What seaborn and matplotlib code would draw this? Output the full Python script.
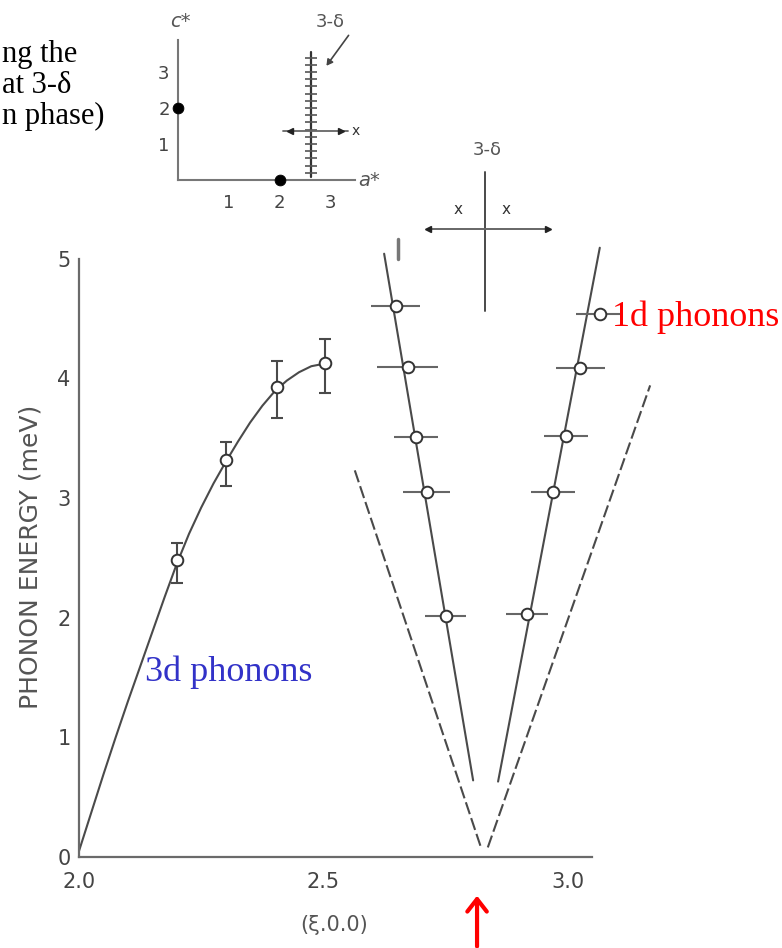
import matplotlib
matplotlib.use("Agg")
import matplotlib.pyplot as plt
import seaborn as sns
import pandas as pd

# ---------------- data ----------------
# 3d phonons (measured points with vertical error bars)
q3d = [2.20, 2.30, 2.405, 2.503]
e3d = [2.48, 3.32, 3.93, 4.13]
e3d_lo = [2.29, 3.10, 3.67, 3.88]
e3d_hi = [2.62, 3.47, 4.14, 4.33]

# 3d dispersion curve
curve_q = [2.000, 2.025, 2.050, 2.075, 2.100, 2.125, 2.150, 2.175, 2.200,
           2.225, 2.250, 2.275, 2.300, 2.325, 2.350, 2.375, 2.400, 2.425,
           2.450, 2.475, 2.500, 2.510]
curve_e = [0.05, 0.37, 0.69, 1.00, 1.30, 1.59, 1.88, 2.17, 2.45,
           2.70, 2.92, 3.12, 3.30, 3.47, 3.63, 3.77, 3.89, 3.98,
           4.05, 4.10, 4.12, 4.13]

# 1d phonons, left branch
q1d_left = [2.648, 2.672, 2.689, 2.711, 2.750]
e1d_left = [4.60, 4.09, 3.51, 3.05, 2.01]
xerr_left = [0.050, 0.062, 0.045, 0.048, 0.042]
# 1d phonons, right branch
q1d_right = [3.065, 3.025, 2.996, 2.969, 2.917]
e1d_right = [4.54, 4.085, 3.52, 3.05, 2.03]
xerr_right = [0.048, 0.050, 0.045, 0.045, 0.043]

# straight dispersion lines of the 1d modes
solid_left_q, solid_left_e = [2.624, 2.806], [5.04, 0.64]
solid_right_q, solid_right_e = [2.857, 3.065], [0.63, 5.09]
dash_left_q, dash_left_e = [2.564, 2.822], [3.23, 0.08]
dash_right_q, dash_right_e = [2.836, 3.168], [0.08, 3.94]

# axis ticks
xticks_major = [2.0, 2.5, 3.0]
xtick_labels = ["2.0", "2.5", "3.0"]
xticks_minor = [2.1, 2.2, 2.3, 2.4, 2.6, 2.7, 2.8, 2.9]
yticks = [0, 1, 2, 3, 4, 5]

# inset (reciprocal lattice sketch)
inset_ticks = [1, 2, 3]
inset_dots_a = [0, 2]
inset_dots_c = [2, 0]
hatch_c = [0.2, 0.4, 0.6, 0.8, 1.0, 1.2, 1.4, 1.6, 1.8, 2.0, 2.2, 2.4,
           2.6, 2.8, 3.0, 3.2, 3.4]
rod_a = 2.62

# ---------------- style ----------------
sns.set_style("white")
plt.rcParams['font.family'] = ['DejaVu Sans']
GRAY = '#555555'
LINE = '#4a4a4a'

fig = plt.figure(figsize=(7.82, 9.48), dpi=100)
W, H = 782, 948
x0, xr = 2.0, 3.30
y0, yr = 0.0, 6.2
pxu_x, pxu_y = 489.0, 119.7
ax = fig.add_axes([79 / W, (H - 857) / H, (xr - x0) * pxu_x / W, (yr - y0) * pxu_y / H])
ax.set_xlim(x0, xr)
ax.set_ylim(y0, yr)
ax.patch.set_alpha(0)
for s in ['top', 'right']:
    ax.spines[s].set_visible(False)
for s in ['left', 'bottom']:
    ax.spines[s].set_color('#6a6a6a')
    ax.spines[s].set_linewidth(1.6)
ax.spines['bottom'].set_bounds(2.0, 3.049)
ax.spines['left'].set_bounds(0, 5)

ax.set_xticks(xticks_major)
ax.set_xticklabels(xtick_labels)
ax.set_xticks(xticks_minor, minor=True)
ax.set_yticks(yticks)
ax.tick_params(axis='x', which='major', direction='in', length=11, width=1.3,
               colors='#6a6a6a', labelcolor='#444444', labelsize=15, pad=11)
ax.tick_params(axis='x', which='minor', direction='in', length=8, width=1.1,
               colors='#6a6a6a')
ax.tick_params(axis='y', which='major', direction='in', length=12, width=1.3,
               colors='#6a6a6a', labelcolor='#444444', labelsize=15, pad=6)

ax.set_ylabel("PHONON ENERGY (meV)", fontsize=18, color=GRAY)
ax.yaxis.set_label_coords(-0.058, 0.405)
ax.set_xlabel("(ξ.0.0)", fontsize=15, color=GRAY, va='top')
ax.xaxis.set_label_coords((2.521 - x0) / (xr - x0), -0.078)

# 3d curve
sns.lineplot(x=curve_q, y=curve_e, ax=ax, color=LINE, lw=1.5, sort=False,
             estimator=None)
# 1d lines
for q, e, ls in [(solid_left_q, solid_left_e, '-'), (solid_right_q, solid_right_e, '-'),
                 (dash_left_q, dash_left_e, (0, (6, 2))), (dash_right_q, dash_right_e, (0, (6, 2)))]:
    sns.lineplot(x=q, y=e, ax=ax, color=LINE, lw=1.5, linestyle=ls, sort=False,
                 estimator=None)

# error bars
err_lo = [e - l for e, l in zip(e3d, e3d_lo)]
err_hi = [h - e for e, h in zip(e3d, e3d_hi)]
ax.errorbar(q3d, e3d, yerr=[err_lo, err_hi], fmt='none', ecolor=LINE,
            elinewidth=1.5, capsize=4.5, capthick=1.5, zorder=3)
ax.errorbar(q1d_left, e1d_left, xerr=xerr_left, fmt='none', ecolor='#666666',
            elinewidth=1.5, capsize=0, zorder=3)
ax.errorbar(q1d_right, e1d_right, xerr=xerr_right, fmt='none', ecolor='#666666',
            elinewidth=1.5, capsize=0, zorder=3, clip_on=False)

pts = pd.DataFrame({'q': q3d + q1d_left + q1d_right,
                    'e': e3d + e1d_left + e1d_right})
sns.scatterplot(data=pts, x='q', y='e', ax=ax, s=70, marker='o',
                facecolor='white', edgecolor='#333333', linewidth=1.4,
                zorder=4, clip_on=False)

# labels for the two regimes
ax.text(2.135, 1.545, "3d phonons", color='#3232c8', fontsize=26,
        family='Liberation Serif', va='center', ha='left')
ax.text(3.089, 4.51, "1d phonons", color='#ff0000', fontsize=26,
        family='Liberation Serif', va='center', ha='left')

# small mark above the left 1d line
ax.plot([2.653, 2.653], [5.0, 5.16], color='#777777', lw=2.5, clip_on=False)

# 3-delta cross sketch
ax.plot([2.831, 2.831], [4.56, 5.72], color=LINE, lw=1.4, clip_on=False)
ax.plot([2.714, 2.96], [5.25, 5.25], color='#666666', lw=1.4, clip_on=False)
ax.plot([2.714], [5.25], marker='<', ms=5, color='#222222', clip_on=False)
ax.plot([2.96], [5.25], marker='>', ms=5, color='#222222', clip_on=False)
ax.text(2.834, 5.91, "3-δ", fontsize=13, color=GRAY, ha='center', va='center')
ax.text(2.776, 5.41, "x", fontsize=11, color='#333333', ha='center', va='center')
ax.text(2.874, 5.41, "x", fontsize=11, color='#333333', ha='center', va='center')

# red arrow at the bottom
ax.annotate("", xy=(2.814, -0.30), xytext=(2.814, -0.77),
            xycoords='data', annotation_clip=False,
            arrowprops=dict(arrowstyle='->,head_length=0.9,head_width=0.7',
                            color='#ff0000', lw=3))

# ---------------- inset ----------------
ia = fig.add_axes([178 / W, (H - 180) / H, (355 - 178) / W, (180 - 40) / H])
ia.set_xlim(0, 177 / 50.8)
ia.set_ylim(0, 140 / 36.0)
ia.patch.set_alpha(0)
for s in ['top', 'right']:
    ia.spines[s].set_visible(False)
for s in ['left', 'bottom']:
    ia.spines[s].set_color('#777777')
    ia.spines[s].set_linewidth(1.5)
ia.set_xticks(inset_ticks)
ia.set_yticks(inset_ticks)
ia.set_xticklabels([str(t) for t in inset_ticks])
ia.set_yticklabels([str(t) for t in inset_ticks])
ia.tick_params(direction='in', length=6, width=1.2, colors='#888888',
               labelcolor='#444444', labelsize=13)
ia.tick_params(axis='x', pad=10)
ia.tick_params(axis='y', pad=6)
sns.scatterplot(x=inset_dots_a, y=inset_dots_c, ax=ia, s=60, color='black',
                edgecolor='black', zorder=5, clip_on=False)
ia.plot([rod_a, rod_a], [0.08, 3.55], color='#333333', lw=1.6)
ia.plot([rod_a] * len(hatch_c), hatch_c, ls='none', marker='_', ms=9,
        mew=1.2, color='#555555')
ia.plot([2.07, 3.35], [1.36, 1.36], color='#666666', lw=1.3)
ia.plot([2.2], [1.36], marker='<', ms=4, color='#222222')
ia.plot([3.2], [1.36], marker='>', ms=4, color='#222222')
ia.text(3.42, 1.36, "x", fontsize=10, color='#333333', va='center', ha='left')
ia.text(2.99, 4.38, "3-δ", fontsize=13, color=GRAY, ha='center', va='center',
        clip_on=False)
ia.annotate("", xy=(2.89, 3.11), xytext=(3.39, 4.08), annotation_clip=False,
            arrowprops=dict(arrowstyle='-|>,head_length=0.35,head_width=0.2',
                            color='#444444', lw=1.2))
ia.text(0.05, 4.40, "c*", fontsize=14, color=GRAY, ha='center', va='center',
        style='italic')
ia.text(3.55, -0.02, "a*", fontsize=14, color=GRAY, ha='left', va='center',
        style='italic', clip_on=False)

# ---------------- top-left caption fragment ----------------
for txt, yb in [("ng the", 62), ("at 3-δ", 93), ("n phase)", 124)]:
    fig.text(2 / W, 1 - yb / H, txt, fontsize=22, family='Liberation Serif',
             color='black', ha='left', va='baseline')

fig.savefig("out.png", dpi=100)
